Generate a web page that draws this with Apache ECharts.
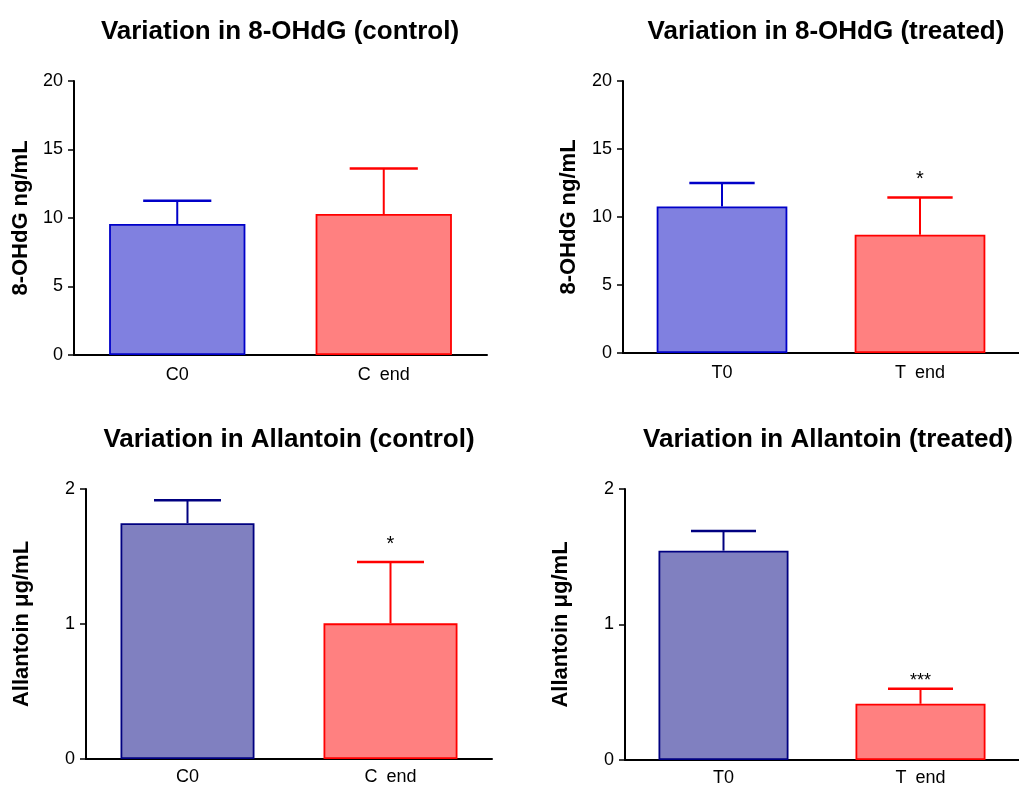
<!DOCTYPE html>
<html>
<head>
<meta charset="utf-8">
<script src="https://cdn.jsdelivr.net/npm/echarts@6/dist/echarts.min.js"></script>
<style>
html,body{margin:0;padding:0;background:#fff;}
#c{width:1019px;height:787px;}
</style>
</head>
<body>
<div id="c"></div>
<script>
// ---- data ----
const titles = ['Variation in 8-OHdG (control)', 'Variation in 8-OHdG (treated)', 'Variation in Allantoin (control)', 'Variation in Allantoin (treated)'];
const yNames = ['8-OHdG ng/mL', '8-OHdG ng/mL', 'Allantoin \u03BCg/mL', 'Allantoin \u03BCg/mL'];
const categoriesControl = ['C0', 'C end'];
const categoriesTreated = ['T0', 'T end'];
const ohdgControlMean = [9.56, 10.29];
const ohdgControlErr = [1.70, 3.33];
const ohdgTreatedMean = [10.78, 8.70];
const ohdgTreatedErr = [1.72, 2.74];
const allantoinControlMean = [1.746, 1.005];
const allantoinControlErr = [0.170, 0.454];
const allantoinTreatedMean = [1.545, 0.415];
const allantoinTreatedErr = [0.145, 0.110];
const sigControl8 = ['', ''];
const sigTreated8 = ['', '*'];
const sigControlAll = ['', '*'];
const sigTreatedAll = ['', '***'];
const yMax = [20, 20, 2, 2];
const yInterval = [5, 5, 1, 1];
const yTicks = [['0','5','10','15','20'], ['0','5','10','15','20'], ['0','1','2'], ['0','1','2']];

// ---- layout / style ----
const grids = [
  {left: 74, top: 81, width: 413, height: 274},
  {left: 623, top: 81, width: 406, height: 272},
  {left: 86, top: 489, width: 406, height: 270},
  {left: 625, top: 489, width: 406, height: 271}
];
const nameGaps = [42, 43, 53, 53];
const titleCenters = [[280, 19], [826, 19], [289, 427], [828, 427]];
const blueFill = ['#8080E0', '#8080E0', '#8080C0', '#8080C0'];
const blueLine = ['#0000C8', '#0000C8', '#000080', '#000080'];
const redFill = '#FF8080', redLine = '#FF0000';

const panels = [
  {cats: categoriesControl, mean: ohdgControlMean, err: ohdgControlErr, sig: sigControl8},
  {cats: categoriesTreated, mean: ohdgTreatedMean, err: ohdgTreatedErr, sig: sigTreated8},
  {cats: categoriesControl, mean: allantoinControlMean, err: allantoinControlErr, sig: sigControlAll},
  {cats: categoriesTreated, mean: allantoinTreatedMean, err: allantoinTreatedErr, sig: sigTreatedAll}
];

const FONT = 'Liberation Sans, Arial, sans-serif';
const option = {
  animation: false,
  backgroundColor: '#fff',
  title: titles.map((t, i) => ({
    text: t, left: titleCenters[i][0], top: titleCenters[i][1], textAlign: 'center', padding: 0,
    textStyle: {fontFamily: FONT, fontSize: 26, fontWeight: 'bold', color: '#000'}
  })),
  grid: grids,
  xAxis: panels.map((p, i) => ({
    type: 'category', gridIndex: i, data: p.cats,
    axisLine: {lineStyle: {color: '#000', width: 2}},
    axisTick: {show: false},
    axisLabel: {color: '#000', fontFamily: FONT, fontSize: 18, margin: i < 2 ? 11 : 9,
      formatter: (v) => v.replace(' ', '\u2002')}
  })),
  yAxis: panels.map((p, i) => ({
    type: 'value', gridIndex: i, min: 0, max: yMax[i], interval: yInterval[i],
    name: yNames[i], nameLocation: 'middle', nameGap: nameGaps[i],
    nameTextStyle: {fontFamily: FONT, fontSize: 22, fontWeight: 'bold', color: '#000'},
    axisLine: {show: true, lineStyle: {color: '#000', width: 2}},
    axisTick: {show: true, length: 6, lineStyle: {color: '#000', width: 1.5}},
    splitLine: {show: false},
    axisLabel: {color: '#000', fontFamily: FONT, fontSize: 18, margin: 11,
      formatter: (v) => { const idx = Math.round(v / yInterval[i]); return yTicks[i][idx] !== undefined ? yTicks[i][idx] : ''; }}
  })),
  series: []
};

panels.forEach((p, i) => {
  option.series.push({
    type: 'bar', xAxisIndex: i, yAxisIndex: i, barWidth: '66%',
    data: p.mean.map((m, j) => ({
      value: m,
      itemStyle: {color: j === 0 ? blueFill[i] : redFill, borderColor: j === 0 ? blueLine[i] : redLine, borderWidth: 1.8}
    }))
  });
  option.series.push({
    type: 'custom', xAxisIndex: i, yAxisIndex: i, z: 5,
    data: p.mean.map((m, j) => [j, m, p.err[j]]),
    renderItem: (params, api) => {
      const j = api.value(0), m = api.value(1), e = api.value(2);
      const p0 = api.coord([j, m]);
      const p1 = api.coord([j, m + e]);
      const bw = api.size([1, 0])[0] * 0.66;
      const col = j === 0 ? blueLine[i] : redLine;
      const children = [
        {type: 'line', shape: {x1: p0[0], y1: p0[1], x2: p1[0], y2: p1[1]}, style: {stroke: col, lineWidth: 2}},
        {type: 'line', shape: {x1: p1[0] - bw / 4, y1: p1[1], x2: p1[0] + bw / 4, y2: p1[1]}, style: {stroke: col, lineWidth: 2.5}}
      ];
      const s = p.sig[j];
      if (s) {
        const single = s.length === 1;
        children.push({type: 'text', x: p1[0], y: p1[1] + (single ? -8 : 1),
          style: {text: s, fill: '#000', font: (single ? '20px ' : '18px ') + FONT, align: 'center', verticalAlign: 'bottom'}});
      }
      return {type: 'group', children};
    }
  });
});

const chart = echarts.init(document.getElementById('c'), null, {renderer: 'canvas'});
chart.setOption(option);
</script>
</body>
</html>
